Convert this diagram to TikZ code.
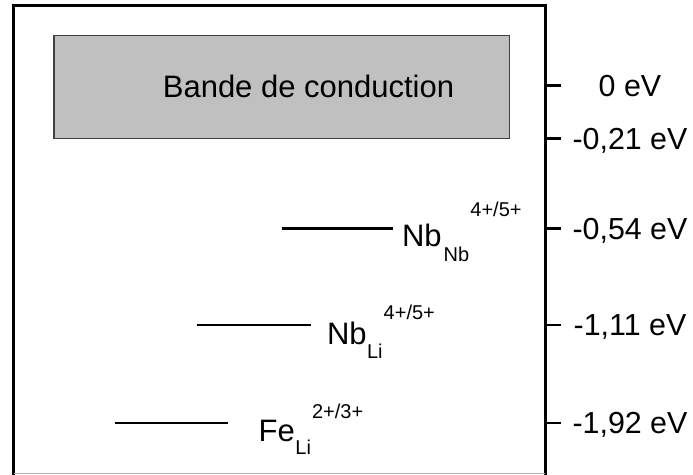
\documentclass[tikz,border=0pt]{standalone}
\usepackage{fontspec}
\setmainfont{Liberation Sans}
\usepackage{xcolor}
\definecolor{bandfill}{RGB}{192,192,192}
\definecolor{bandline}{RGB}{64,64,64}

\begin{document}
\begin{tikzpicture}[
    x=0.5pt, y=-0.5pt,
    band/.style={draw=bandline, fill=bandfill, line width=0.6pt},
    level/.style={line width=1.3pt},
    scalemark/.style={line width=1.3pt},
    species/.style={inner sep=0pt, anchor=base west, font=\fontsize{15.5}{18}\selectfont},
    index/.style={inner sep=0pt, anchor=base west, font=\fontsize{10}{12}\selectfont},
    energy/.style={inner sep=0pt, anchor=base, font=\fontsize{15.2}{18}\selectfont}
]
\useasboundingbox (0,0) rectangle (693,475);

% Frame
\draw[line width=1.3pt] (13.8,475) -- (13.8,5.7) -- (545.3,5.7) -- (545.3,475);
\draw[black!30, line width=0.5pt] (13.8,473.7) -- (545.3,473.7);

% Conduction band
\draw[band] (54,35.3) rectangle (509.3,138.3);
\node[species, anchor=base] (cb) at (308.5,97.3) {Bande de conduction};

% Energy scale
\foreach \y/\e [count=\i] in {85.5/0, 138.5/-0{,}21, 228.5/-0{,}54, 325/-1{,}11, 423/-1{,}92} {
    \draw[scalemark] (545.3,\y) coordinate (t\i) -- ++(16,0);
    \node[energy] (e\i) at (630,\y+11) {\e\ eV};
}

% Nb_Nb level
\draw[level] (281.7,228.5) -- (393,228.5);
\node[species] (nbnb) at (401.7,246.7) {Nb};
\node[index] (nbnbsub) at (443.3,261.7) {Nb};
\node[index] (nbnbsup) at (470,216.7) {4+/5+};

% Nb_Li level
\draw[level] (197,325) -- (311,325);
\node[species] (nbli) at (326.7,345) {Nb};
\node[index] (nblisub) at (366.7,358.3) {Li};
\node[index] (nblisup) at (383.3,320) {4+/5+};

% Fe_Li level
\draw[level] (115,423) -- (228,423);
\node[species] (feli) at (258.3,441.7) {Fe};
\node[index] (felisub) at (295,455) {Li};
\node[index] (felisup) at (311.7,418.3) {2+/3+};

\end{tikzpicture}
\end{document}
